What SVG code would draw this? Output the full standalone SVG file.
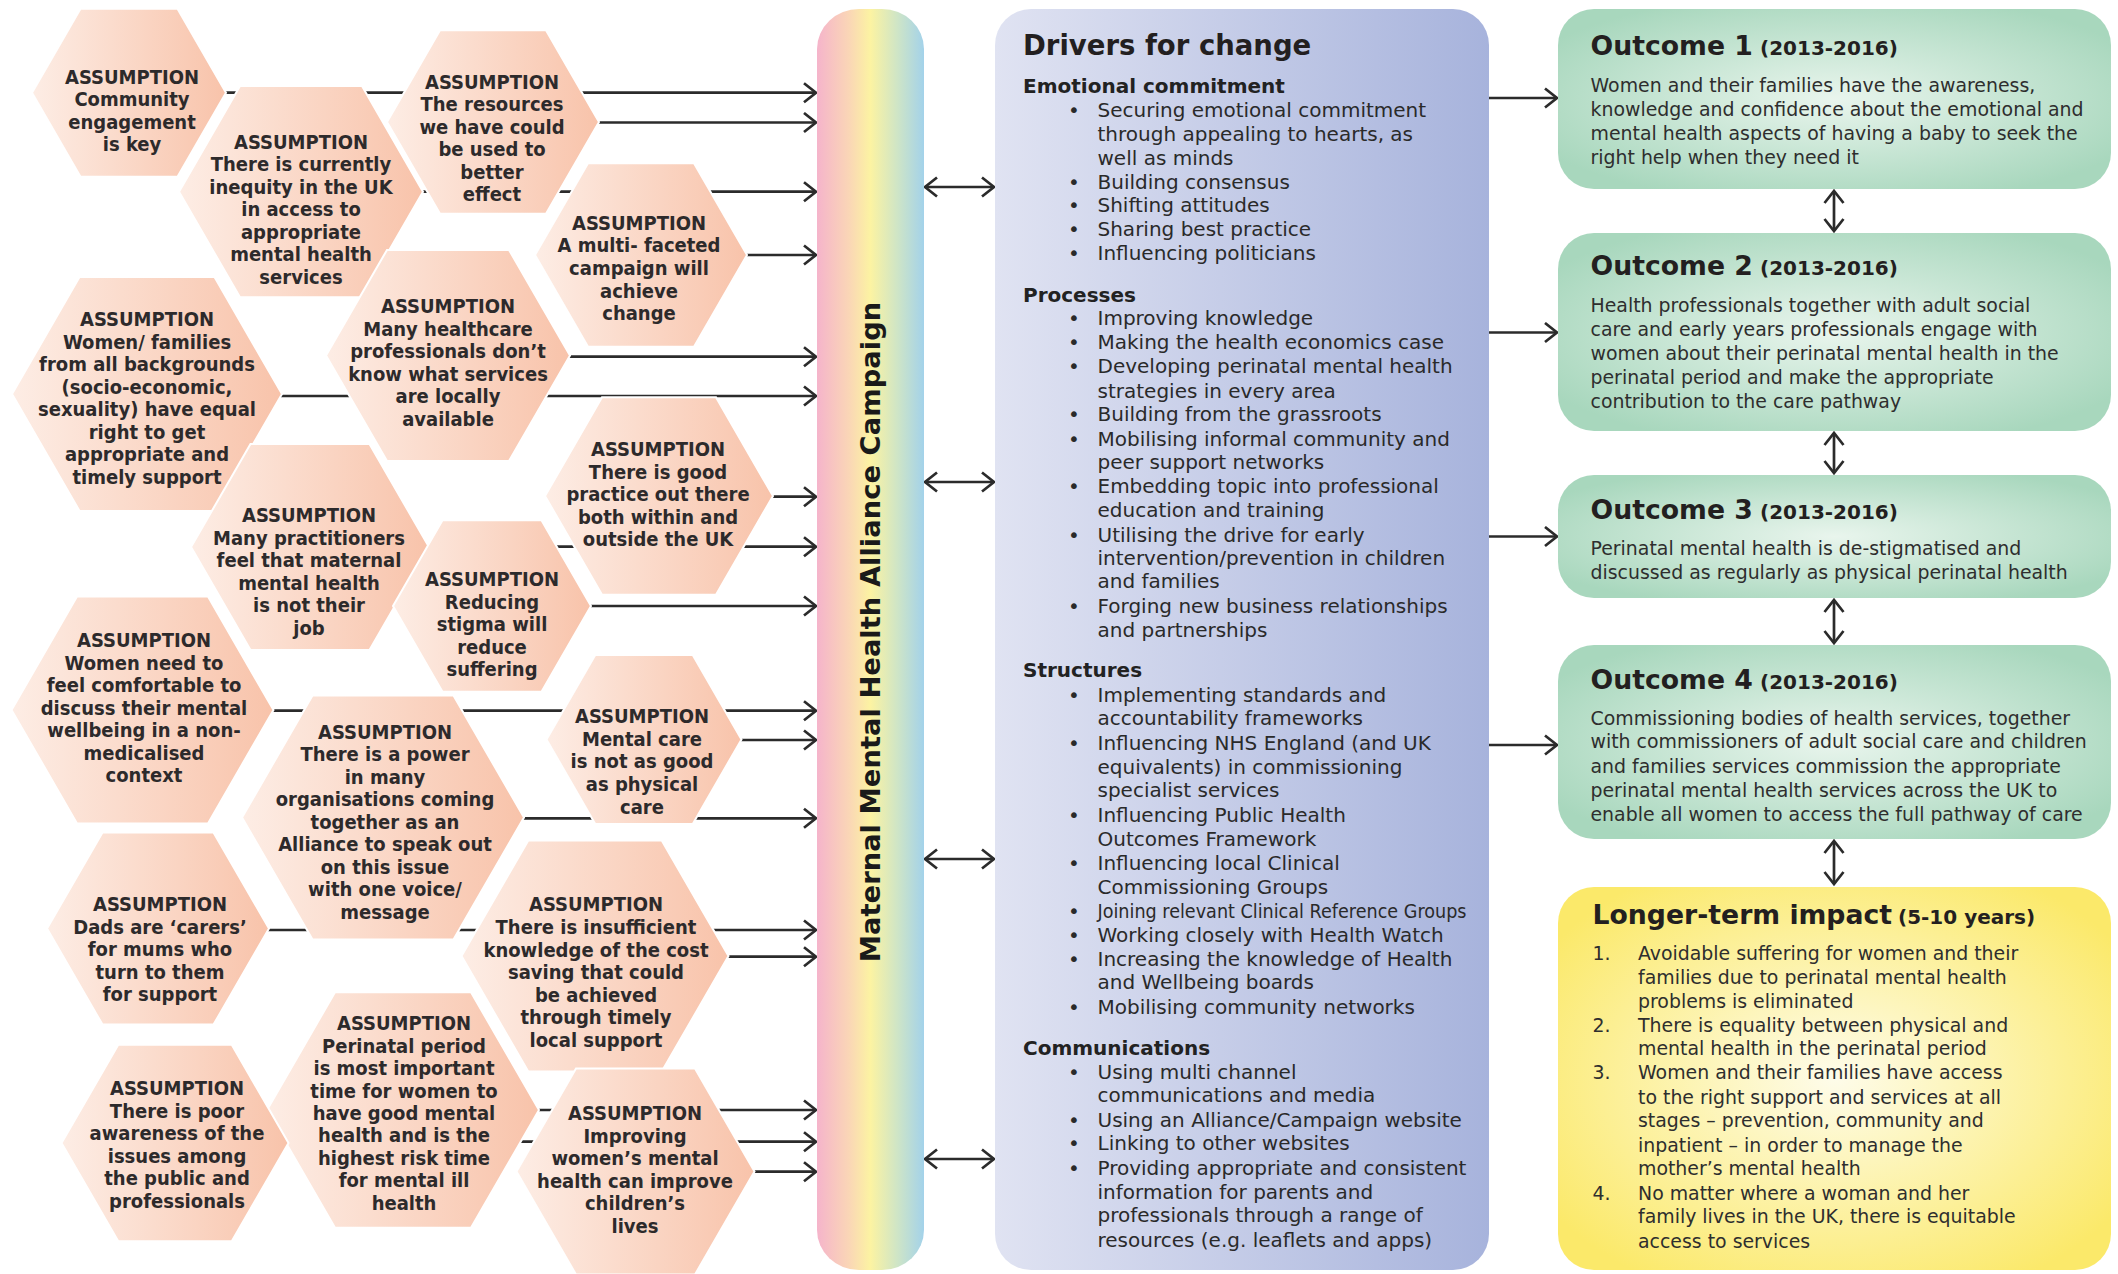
<svg xmlns="http://www.w3.org/2000/svg" width="2118" height="1274" viewBox="0 0 2118 1274">
<defs>
<linearGradient id="hexg" x1="0" y1="0" x2="1" y2="0"><stop offset="0" stop-color="#fdede5"/><stop offset="1" stop-color="#f8c3aa"/></linearGradient>
<linearGradient id="barg" x1="0" y1="0" x2="1" y2="0"><stop offset="0" stop-color="#f5b4cb"/><stop offset="0.3" stop-color="#fad6b6"/><stop offset="0.5" stop-color="#fcf3a2"/><stop offset="0.75" stop-color="#cfe5c6"/><stop offset="1" stop-color="#a3d2ea"/></linearGradient>
<linearGradient id="drvg" x1="0" y1="0" x2="1" y2="0"><stop offset="0" stop-color="#e0e3f2"/><stop offset="1" stop-color="#a7b3dc"/></linearGradient>
<radialGradient id="outg" cx="0.5" cy="0.5" r="0.6"><stop offset="0" stop-color="#e9f5ed"/><stop offset="1" stop-color="#a8d7bd"/></radialGradient>
<radialGradient id="impg" cx="0.5" cy="0.5" r="0.62"><stop offset="0" stop-color="#fefcea"/><stop offset="1" stop-color="#fbe96a"/></radialGradient>
<marker id="ah" markerUnits="userSpaceOnUse" markerWidth="18" markerHeight="24" refX="14" refY="11" orient="auto-start-reverse"><path d="M2,1.5 L14,11 L2,20.5" fill="none" stroke="#2b2b2b" stroke-width="2.7"/></marker>
<style>
.hex polygon{fill:url(#hexg);stroke:#fff;stroke-width:2}
.ht{font-family:"DejaVu Sans Condensed","DejaVu Sans","Liberation Sans Narrow",sans-serif;font-stretch:condensed;font-weight:bold;font-size:20px;fill:#2d2a2b;text-anchor:middle}
.cn line{stroke:#2b2b2b;stroke-width:2.7;marker-end:url(#ah)}
.cn line.dbl{marker-start:url(#ah)}
.bt{font-family:"DejaVu Sans",Verdana,sans-serif;font-size:20px;fill:#2a2a2a}
.bh{font-family:"DejaVu Sans",Verdana,sans-serif;font-size:20px;font-weight:bold;fill:#222}
.ot{font-family:"DejaVu Sans",Verdana,sans-serif;font-size:18.9px;fill:#2e2e2e}
.tt{font-family:"DejaVu Sans",Verdana,sans-serif;font-weight:bold;fill:#231f20}
</style>
</defs>
<rect width="2118" height="1274" fill="#fff"/>

<g id="connectors" class="cn">
<line x1="129" y1="92.7" x2="816" y2="92.7"/>
<line x1="493" y1="122.5" x2="816" y2="122.5"/>
<line x1="301" y1="191.7" x2="816" y2="191.7"/>
<line x1="641" y1="255" x2="816" y2="255"/>
<line x1="448" y1="356.7" x2="816" y2="356.7"/>
<line x1="147" y1="396" x2="816" y2="396"/>
<line x1="659" y1="496.7" x2="816" y2="496.7"/>
<line x1="310" y1="546.7" x2="816" y2="546.7"/>
<line x1="492" y1="606" x2="816" y2="606"/>
<line x1="142" y1="710.7" x2="816" y2="710.7"/>
<line x1="644" y1="740" x2="816" y2="740"/>
<line x1="383" y1="818.3" x2="816" y2="818.3"/>
<line x1="158" y1="930" x2="816" y2="930"/>
<line x1="595" y1="956.7" x2="816" y2="956.7"/>
<line x1="403" y1="1110" x2="816" y2="1110"/>
<line x1="175" y1="1141.7" x2="816" y2="1141.7"/>
<line x1="635" y1="1171.7" x2="816" y2="1171.7"/>
<line class="dbl" x1="925" y1="187" x2="994" y2="187"/>
<line class="dbl" x1="925" y1="482" x2="994" y2="482"/>
<line class="dbl" x1="925" y1="859" x2="994" y2="859"/>
<line class="dbl" x1="925" y1="1159" x2="994" y2="1159"/>
<line x1="1489" y1="98" x2="1557" y2="98"/>
<line x1="1489" y1="332.5" x2="1557" y2="332.5"/>
<line x1="1489" y1="536.5" x2="1557" y2="536.5"/>
<line x1="1489" y1="745" x2="1557" y2="745"/>
<line class="dbl" x1="1834" y1="191" x2="1834" y2="231"/>
<line class="dbl" x1="1834" y1="433" x2="1834" y2="473"/>
<line class="dbl" x1="1834" y1="600" x2="1834" y2="643"/>
<line class="dbl" x1="1834" y1="841" x2="1834" y2="884"/>
</g>

<g id="hex1" class="hex"><polygon points="80.5,8.7 177.5,8.7 226,92.7 177.5,176.7 80.5,176.7 32,92.7"/>
<text class="ht" x="132" y="84"><tspan x="132">ASSUMPTION</tspan><tspan x="132" dy="22.4">Community</tspan><tspan x="132" dy="22.4">engagement</tspan><tspan x="132" dy="22.4">is key</tspan></text></g>

<g id="hex2" class="hex"><polygon points="240,86.1 362,86.1 423,191.7 362,297.3 240,297.3 179,191.7"/>
<text class="ht" x="301" y="148.7"><tspan x="301">ASSUMPTION</tspan><tspan x="301" dy="22.5">There is currently</tspan><tspan x="301" dy="22.5">inequity in the UK</tspan><tspan x="301" dy="22.5">in access to</tspan><tspan x="301" dy="22.5">appropriate</tspan><tspan x="301" dy="22.5">mental health</tspan><tspan x="301" dy="22.5">services</tspan></text></g>

<g id="hex3" class="hex"><polygon points="440,30.2 546,30.2 599,122 546,213.8 440,213.8 387,122"/>
<text class="ht" x="492" y="88.7"><tspan x="492">ASSUMPTION</tspan><tspan x="492" dy="22.5">The resources</tspan><tspan x="492" dy="22.5">we have could</tspan><tspan x="492" dy="22.5">be used to</tspan><tspan x="492" dy="22.5">better</tspan><tspan x="492" dy="22.5">effect</tspan></text></g>

<g id="hex4" class="hex"><polygon points="588,163.2 694,163.2 747,255 694,346.8 588,346.8 535,255"/>
<text class="ht" x="639" y="229.7"><tspan x="639">ASSUMPTION</tspan><tspan x="639" dy="22.6">A multi- faceted</tspan><tspan x="639" dy="22.6">campaign will</tspan><tspan x="639" dy="22.6">achieve</tspan><tspan x="639" dy="22.6">change</tspan></text></g>

<g id="hex5" class="hex"><polygon points="79.5,277.1 214.5,277.1 282,394 214.5,510.9 79.5,510.9 12,394"/>
<text class="ht" x="147" y="326.3"><tspan x="147">ASSUMPTION</tspan><tspan x="147" dy="22.5">Women/ families</tspan><tspan x="147" dy="22.5">from all backgrounds</tspan><tspan x="147" dy="22.5">(socio-economic,</tspan><tspan x="147" dy="22.5">sexuality) have equal</tspan><tspan x="147" dy="22.5">right to get</tspan><tspan x="147" dy="22.5">appropriate and</tspan><tspan x="147" dy="22.5">timely support</tspan></text></g>

<g id="hex6" class="hex"><polygon points="387,249.9 509,249.9 570,355.5 509,461.1 387,461.1 326,355.5"/>
<text class="ht" x="448" y="313"><tspan x="448">ASSUMPTION</tspan><tspan x="448" dy="22.6">Many healthcare</tspan><tspan x="448" dy="22.6">professionals don’t</tspan><tspan x="448" dy="22.6">know what services</tspan><tspan x="448" dy="22.6">are locally</tspan><tspan x="448" dy="22.6">available</tspan></text></g>

<g id="hex7" class="hex"><polygon points="602,397.3 716,397.3 773,496 716,594.7 602,594.7 545,496"/>
<text class="ht" x="658" y="456.3"><tspan x="658">ASSUMPTION</tspan><tspan x="658" dy="22.5">There is good</tspan><tspan x="658" dy="22.5">practice out there</tspan><tspan x="658" dy="22.5">both within and</tspan><tspan x="658" dy="22.5">outside the UK</tspan></text></g>

<g id="hex8" class="hex"><polygon points="250.5,444 369.5,444 429,547 369.5,650 250.5,650 191,547"/>
<text class="ht" x="309" y="522"><tspan x="309">ASSUMPTION</tspan><tspan x="309" dy="22.5">Many practitioners</tspan><tspan x="309" dy="22.5">feel that maternal</tspan><tspan x="309" dy="22.5">mental health</tspan><tspan x="309" dy="22.5">is not their</tspan><tspan x="309" dy="22.5">job</tspan></text></g>

<g id="hex9" class="hex"><polygon points="442.5,520.3 541.5,520.3 591,606 541.5,691.7 442.5,691.7 393,606"/>
<text class="ht" x="492" y="586"><tspan x="492">ASSUMPTION</tspan><tspan x="492" dy="22.5">Reducing</tspan><tspan x="492" dy="22.5">stigma will</tspan><tspan x="492" dy="22.5">reduce</tspan><tspan x="492" dy="22.5">suffering</tspan></text></g>

<g id="hex10" class="hex"><polygon points="77,596.6 208,596.6 273.5,710 208,823.4 77,823.4 11.5,710"/>
<text class="ht" x="144" y="647"><tspan x="144">ASSUMPTION</tspan><tspan x="144" dy="22.5">Women need to</tspan><tspan x="144" dy="22.5">feel comfortable to</tspan><tspan x="144" dy="22.5">discuss their mental</tspan><tspan x="144" dy="22.5">wellbeing in a non-</tspan><tspan x="144" dy="22.5">medicalised</tspan><tspan x="144" dy="22.5">context</tspan></text></g>

<g id="hex11" class="hex"><polygon points="595.25,655.1 692.75,655.1 741.5,739.5 692.75,823.9 595.25,823.9 546.5,739.5"/>
<text class="ht" x="642" y="723"><tspan x="642">ASSUMPTION</tspan><tspan x="642" dy="22.7">Mental care</tspan><tspan x="642" dy="22.7">is not as good</tspan><tspan x="642" dy="22.7">as physical</tspan><tspan x="642" dy="22.7">care</tspan></text></g>

<g id="hex12" class="hex"><polygon points="312.5,695.4 453.5,695.4 524,817.5 453.5,939.6 312.5,939.6 242,817.5"/>
<text class="ht" x="385" y="738.7"><tspan x="385">ASSUMPTION</tspan><tspan x="385" dy="22.5">There is a power</tspan><tspan x="385" dy="22.5">in many</tspan><tspan x="385" dy="22.5">organisations coming</tspan><tspan x="385" dy="22.5">together as an</tspan><tspan x="385" dy="22.5">Alliance to speak out</tspan><tspan x="385" dy="22.5">on this issue</tspan><tspan x="385" dy="22.5">with one voice/</tspan><tspan x="385" dy="22.5">message</tspan></text></g>

<g id="hex13" class="hex"><polygon points="102.5,832.4 213.5,832.4 269,928.5 213.5,1024.6 102.5,1024.6 47,928.5"/>
<text class="ht" x="160" y="911.3"><tspan x="160">ASSUMPTION</tspan><tspan x="160" dy="22.5">Dads are ‘carers’</tspan><tspan x="160" dy="22.5">for mums who</tspan><tspan x="160" dy="22.5">turn to them</tspan><tspan x="160" dy="22.5">for support</tspan></text></g>

<g id="hex14" class="hex"><polygon points="528.25,840.4 661.75,840.4 728.5,956 661.75,1071.6 528.25,1071.6 461.5,956"/>
<text class="ht" x="596" y="911.3"><tspan x="596">ASSUMPTION</tspan><tspan x="596" dy="22.6">There is insufficient</tspan><tspan x="596" dy="22.6">knowledge of the cost</tspan><tspan x="596" dy="22.6">saving that could</tspan><tspan x="596" dy="22.6">be achieved</tspan><tspan x="596" dy="22.6">through timely</tspan><tspan x="596" dy="22.6">local support</tspan></text></g>

<g id="hex15" class="hex"><polygon points="335,992.2 471,992.2 539,1110 471,1227.8 335,1227.8 267,1110"/>
<text class="ht" x="404" y="1030.3"><tspan x="404">ASSUMPTION</tspan><tspan x="404" dy="22.4">Perinatal period</tspan><tspan x="404" dy="22.4">is most important</tspan><tspan x="404" dy="22.4">time for women to</tspan><tspan x="404" dy="22.4">have good mental</tspan><tspan x="404" dy="22.4">health and is the</tspan><tspan x="404" dy="22.4">highest risk time</tspan><tspan x="404" dy="22.4">for mental ill</tspan><tspan x="404" dy="22.4">health</tspan></text></g>

<g id="hex16" class="hex"><polygon points="118.25,1044.7 231.75,1044.7 288.5,1143 231.75,1241.3 118.25,1241.3 61.5,1143"/>
<text class="ht" x="177" y="1095.3"><tspan x="177">ASSUMPTION</tspan><tspan x="177" dy="22.5">There is poor</tspan><tspan x="177" dy="22.5">awareness of the</tspan><tspan x="177" dy="22.5">issues among</tspan><tspan x="177" dy="22.5">the public and</tspan><tspan x="177" dy="22.5">professionals</tspan></text></g>

<g id="hex17" class="hex"><polygon points="576,1068.5 695,1068.5 754.5,1171.5 695,1274.5 576,1274.5 516.5,1171.5"/>
<text class="ht" x="635" y="1120.3"><tspan x="635">ASSUMPTION</tspan><tspan x="635" dy="22.5">Improving</tspan><tspan x="635" dy="22.5">women’s mental</tspan><tspan x="635" dy="22.5">health can improve</tspan><tspan x="635" dy="22.5">children’s</tspan><tspan x="635" dy="22.5">lives</tspan></text></g>

<g id="campaign">
<rect x="817" y="9" width="107" height="1261" rx="42" ry="40" fill="url(#barg)"/>
<text transform="translate(880,632) rotate(-90)" text-anchor="middle" font-family="DejaVu Sans, Verdana, sans-serif" font-weight="bold" font-size="27.4" fill="#1a1a1a">Maternal Mental Health Alliance Campaign</text>
</g>

<g id="drivers">
<rect x="995" y="9" width="494" height="1261" rx="36" fill="url(#drvg)"/>
<text class="tt" x="1023" y="55" font-size="27.5">Drivers for change</text>
<text class="bh" x="1023" y="92.7">Emotional commitment</text>
<text class="bh" x="1023" y="301.6">Processes</text>
<text class="bh" x="1023" y="677.2">Structures</text>
<text class="bh" x="1023" y="1054.7">Communications</text>
<g class="bt" text-anchor="middle">
<text x="1074" y="117.2">•</text><text x="1074" y="188.6">•</text><text x="1074" y="212.2">•</text><text x="1074" y="236.3">•</text><text x="1074" y="260.4">•</text>
<text x="1074" y="325.2">•</text><text x="1074" y="348.9">•</text><text x="1074" y="373.4">•</text><text x="1074" y="421.1">•</text><text x="1074" y="445.6">•</text><text x="1074" y="493.3">•</text><text x="1074" y="541.5">•</text><text x="1074" y="612.9">•</text>
<text x="1074" y="701.9">•</text><text x="1074" y="749.9">•</text><text x="1074" y="821.8">•</text><text x="1074" y="869.9">•</text><text x="1074" y="918.3">•</text><text x="1074" y="941.7">•</text><text x="1074" y="965.6">•</text><text x="1074" y="1013.6">•</text>
<text x="1074" y="1078.5">•</text><text x="1074" y="1126.6">•</text><text x="1074" y="1150.4">•</text><text x="1074" y="1175">•</text>
</g>
<g class="bt">
<text x="1097.5" y="117.2">Securing emotional commitment</text>
<text x="1097.5" y="140.8">through appealing to hearts, as</text>
<text x="1097.5" y="164.9">well as minds</text>
<text x="1097.5" y="188.6">Building consensus</text>
<text x="1097.5" y="212.2">Shifting attitudes</text>
<text x="1097.5" y="236.3">Sharing best practice</text>
<text x="1097.5" y="260.4">Influencing politicians</text>
<text x="1097.5" y="325.2">Improving knowledge</text>
<text x="1097.5" y="348.9">Making the health economics case</text>
<text x="1097.5" y="373.4">Developing perinatal mental health</text>
<text x="1097.5" y="397.5">strategies in every area</text>
<text x="1097.5" y="421.1">Building from the grassroots</text>
<text x="1097.5" y="445.6">Mobilising informal community and</text>
<text x="1097.5" y="469.3">peer support networks</text>
<text x="1097.5" y="493.3">Embedding topic into professional</text>
<text x="1097.5" y="517">education and training</text>
<text x="1097.5" y="541.5">Utilising the drive for early</text>
<text x="1097.5" y="565.1">intervention/prevention in children</text>
<text x="1097.5" y="588.4">and families</text>
<text x="1097.5" y="612.9">Forging new business relationships</text>
<text x="1097.5" y="636.5">and partnerships</text>
<text x="1097.5" y="701.9">Implementing standards and</text>
<text x="1097.5" y="725.3">accountability frameworks</text>
<text x="1097.5" y="749.9">Influencing NHS England (and UK</text>
<text x="1097.5" y="773.8">equivalents) in commissioning</text>
<text x="1097.5" y="797.2">specialist services</text>
<text x="1097.5" y="821.8">Influencing Public Health</text>
<text x="1097.5" y="845.6">Outcomes Framework</text>
<text x="1097.5" y="869.9">Influencing local Clinical</text>
<text x="1097.5" y="893.7">Commissioning Groups</text>
<text x="1097.5" y="918.3" textLength="369" lengthAdjust="spacingAndGlyphs">Joining relevant Clinical Reference Groups</text>
<text x="1097.5" y="941.7">Working closely with Health Watch</text>
<text x="1097.5" y="965.6">Increasing the knowledge of Health</text>
<text x="1097.5" y="989.4">and Wellbeing boards</text>
<text x="1097.5" y="1013.6">Mobilising community networks</text>
<text x="1097.5" y="1078.5">Using multi channel</text>
<text x="1097.5" y="1102.3">communications and media</text>
<text x="1097.5" y="1126.6">Using an Alliance/Campaign website</text>
<text x="1097.5" y="1150.4">Linking to other websites</text>
<text x="1097.5" y="1175">Providing appropriate and consistent</text>
<text x="1097.5" y="1198.8">information for parents and</text>
<text x="1097.5" y="1222.2">professionals through a range of</text>
<text x="1097.5" y="1246.9">resources (e.g. leaflets and apps)</text>
</g>
</g>

<g id="outcome1">
<rect x="1558" y="9" width="553" height="180" rx="36" fill="url(#outg)"/>
<text class="tt" x="1590.5" y="55.2" font-size="26.7">Outcome 1</text>
<text class="tt" x="1760" y="55.2" font-size="20">(2013-2016)</text>
<text class="ot" x="1590.5" y="92.2">Women and their families have the awareness,</text>
<text class="ot" x="1590.5" y="115.8">knowledge and confidence about the emotional and</text>
<text class="ot" x="1590.5" y="139.9">mental health aspects of having a baby to seek the</text>
<text class="ot" x="1590.5" y="163.5">right help when they need it</text>
</g>

<g id="outcome2">
<rect x="1558" y="233" width="553" height="198" rx="36" fill="url(#outg)"/>
<text class="tt" x="1590.5" y="274.7" font-size="26.7">Outcome 2</text>
<text class="tt" x="1760" y="274.7" font-size="20">(2013-2016)</text>
<text class="ot" x="1590.5" y="311.7">Health professionals together with adult social</text>
<text class="ot" x="1590.5" y="336.2">care and early years professionals engage with</text>
<text class="ot" x="1590.5" y="359.8">women about their perinatal mental health in the</text>
<text class="ot" x="1590.5" y="383.9">perinatal period and make the appropriate</text>
<text class="ot" x="1590.5" y="408.4">contribution to the care pathway</text>
</g>

<g id="outcome3">
<rect x="1558" y="475" width="553" height="123" rx="36" fill="url(#outg)"/>
<text class="tt" x="1590.5" y="518.7" font-size="26.7">Outcome 3</text>
<text class="tt" x="1760" y="518.7" font-size="20">(2013-2016)</text>
<text class="ot" x="1590.5" y="555.3">Perinatal mental health is de-stigmatised and</text>
<text class="ot" x="1590.5" y="578.9">discussed as regularly as physical perinatal health</text>
</g>

<g id="outcome4">
<rect x="1558" y="645" width="553" height="194" rx="36" fill="url(#outg)"/>
<text class="tt" x="1590.5" y="689.1" font-size="26.7">Outcome 4</text>
<text class="tt" x="1760" y="689.1" font-size="20">(2013-2016)</text>
<text class="ot" x="1590.5" y="724.5">Commissioning bodies of health services, together</text>
<text class="ot" x="1590.5" y="748.3">with commissioners of adult social care and children</text>
<text class="ot" x="1590.5" y="772.5">and families services commission the appropriate</text>
<text class="ot" x="1590.5" y="796.6">perinatal mental health services across the UK to</text>
<text class="ot" x="1590.5" y="821.2">enable all women to access the full pathway of care</text>
</g>

<g id="impact">
<rect x="1558" y="887" width="553" height="383" rx="36" fill="url(#impg)"/>
<text class="tt" x="1592.5" y="923.5" font-size="26.7" fill="#111">Longer-term impact</text>
<text class="tt" x="1898" y="923.5" font-size="20" fill="#111">(5-10 years)</text>
<g class="ot" font-size="19.7" fill="#1e1e1e">
<text x="1592.5" y="959.8">1.</text>
<text x="1638" y="959.8">Avoidable suffering for women and their</text>
<text x="1638" y="983.5">families due to perinatal mental health</text>
<text x="1638" y="1007.7">problems is eliminated</text>
<text x="1592.5" y="1031.5">2.</text>
<text x="1638" y="1031.5">There is equality between physical and</text>
<text x="1638" y="1055.3">mental health in the perinatal period</text>
<text x="1592.5" y="1079.4">3.</text>
<text x="1638" y="1079.4">Women and their families have access</text>
<text x="1638" y="1103.6">to the right support and services at all</text>
<text x="1638" y="1127.4">stages – prevention, community and</text>
<text x="1638" y="1151.6">inpatient – in order to manage the</text>
<text x="1638" y="1175.4">mother’s mental health</text>
<text x="1592.5" y="1199.5">4.</text>
<text x="1638" y="1199.5">No matter where a woman and her</text>
<text x="1638" y="1223.3">family lives in the UK, there is equitable</text>
<text x="1638" y="1247.5">access to services</text>
</g>
</g>
</svg>
